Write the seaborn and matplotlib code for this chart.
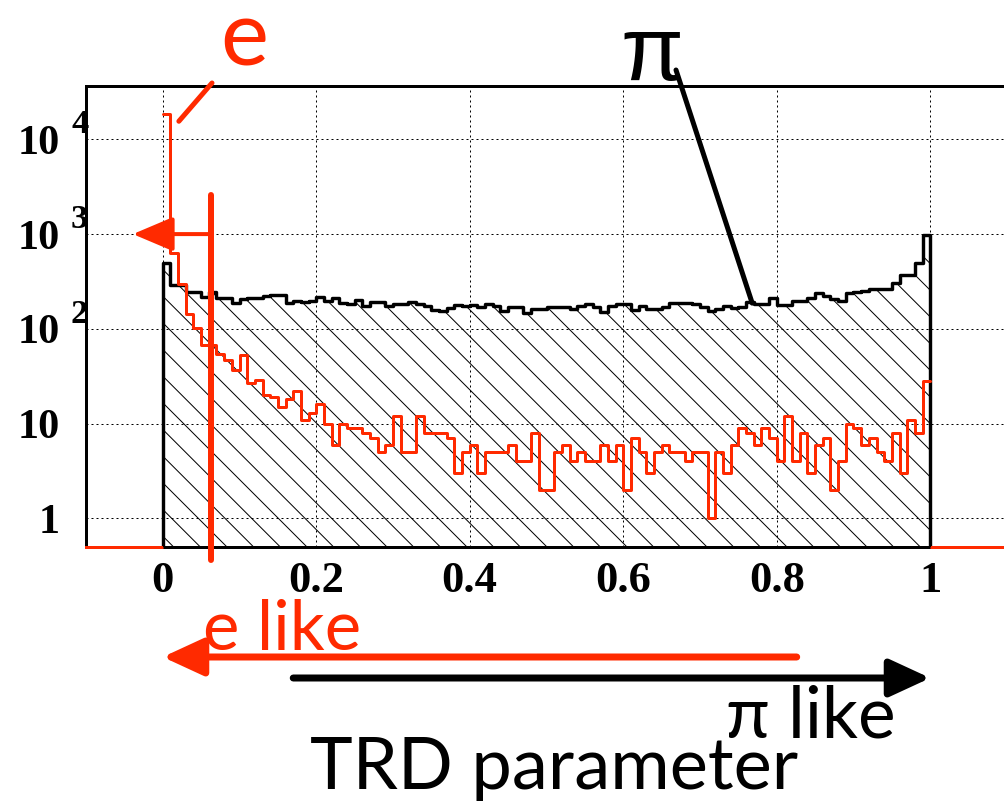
import numpy as np
import pandas as pd
import matplotlib
matplotlib.use("Agg")
import matplotlib.pyplot as plt
import seaborn as sns

# bin edges of the TRD parameter histograms (100 bins on [0, 1])
bin_edges = [round(i * 0.01, 2) for i in range(101)]

# pion counts per bin
pion_counts = [
    500, 290, 290, 245, 245, 218, 245, 210, 210, 186, 205, 210, 210, 220, 225, 225, 188,
    198, 194, 198, 215, 198, 210, 189, 185, 200, 174, 190, 190, 174, 185, 185, 190,
    185, 174, 158, 156, 165, 178, 176, 178, 170, 182, 174, 156, 172, 170, 148, 162, 162,
    170, 172, 170, 162, 174, 182, 172, 151, 174, 182, 185, 158, 174, 162, 162, 172, 188,
    188, 188, 185, 170, 156, 162, 174, 165, 170, 190, 185, 185, 210, 178, 178, 198,
    195, 210, 240, 222, 205, 195, 240, 245, 250, 261, 265, 265, 307, 370, 370, 491, 980,
]

# electron counts per bin
electron_counts = [
    18500, 630, 297, 142, 101, 67, 67, 54, 47, 37, 53, 27, 29, 20, 19, 15, 18,
    22, 11, 13, 16, 10, 6, 10, 9, 9, 8, 7, 5, 6, 12, 5, 5,
    12, 8, 8, 8, 7, 3, 5, 6, 3, 5, 5, 5, 6, 4, 4, 8, 2,
    2, 5, 6, 4, 5, 4, 4, 6, 4, 6, 2, 7, 5, 3, 5, 6, 5,
    5, 4, 5, 5, 1, 5, 3, 6, 9, 8, 6, 9, 7, 4, 12, 4,
    8, 3, 6, 7, 2, 4, 10, 9, 6, 7, 5, 4, 8, 3, 11, 8, 28,
]

x_ticks = [0, 0.2, 0.4, 0.6, 0.8, 1.0]
x_tick_labels = ["0", "0.2", "0.4", "0.6", "0.8", "1"]
y_ticks = [1, 10, 100, 1000, 10000]
y_tick_labels = ["1", "10", "10", "10", "10"]
y_exponents = {100: "2", 1000: "3", 10000: "4"}

cut_value = 0.063

RED = "#ff2a00"
DPI = 80
PX = 72 / DPI  # points per pixel

edges = np.array(bin_edges)
centers = (edges[:-1] + edges[1:]) / 2
df = pd.DataFrame({"trd": centers, "pion": pion_counts, "electron": electron_counts})

sns.set_style("white")
plt.rcParams["hatch.linewidth"] = 1.0 * PX
plt.rcParams["font.family"] = ["Lato", "Liberation Sans", "DejaVu Sans"]
plt.rcParams["axes.linewidth"] = 3 * PX
plt.rcParams["text.color"] = "black"
plt.rcParams["xtick.color"] = "black"
plt.rcParams["ytick.color"] = "black"

fig = plt.figure(figsize=(1004 / DPI, 802 / DPI), dpi=DPI)
ax = fig.add_axes([86 / 1004, 1 - 547 / 802, (1007 - 86) / 1004, (547 - 86) / 802])
ax.set_yscale("log")

ymin, ymax = 0.5, 36500

# pion histogram: hatched
sns.histplot(data=df, x="trd", weights="pion", bins=bin_edges, element="step",
             fill=True, color="black", facecolor="none", edgecolor="black",
             hatch="\\", linewidth=3.4 * PX, alpha=1, ax=ax, zorder=2)
# electron histogram: red outline
sns.histplot(data=df, x="trd", weights="electron", bins=bin_edges, element="step",
             fill=False, color=RED, linewidth=3 * PX, ax=ax, zorder=3)

ax.set_xlim(-0.1, 1.1)
ax.set_ylim(ymin, ymax)
ax.set_xlabel("")
ax.set_ylabel("")

# grid
ax.set_axisbelow(False)
ax.grid(True, which="major", color="black", linestyle=(0, (2, 3)), linewidth=1 * PX)
ax.grid(False, which="minor")

# ticks
ax.set_xticks(x_ticks)
ax.set_xticklabels(x_tick_labels)
ax.set_xticks(np.arange(-0.1, 1.101, 0.05), minor=True)
ax.set_yticks(y_ticks)
ax.set_yticklabels(y_tick_labels)
ax.yaxis.set_minor_locator(matplotlib.ticker.LogLocator(base=10, subs=np.arange(2, 10)))
ax.yaxis.set_minor_formatter(matplotlib.ticker.NullFormatter())

for lab in ax.get_xticklabels():
    lab.set_fontfamily("Liberation Serif")
    lab.set_fontweight("bold")
    lab.set_fontsize(40)
for lab in ax.get_yticklabels():
    lab.set_fontfamily("Liberation Serif")
    lab.set_fontweight("bold")
    lab.set_fontsize(38)

ax.tick_params(axis="x", which="major", direction="in", length=15 * PX,
               width=1.5 * PX, pad=14 * PX, top=False, labelcolor="black")
ax.tick_params(axis="x", which="minor", direction="in", length=8 * PX,
               width=1.2 * PX, top=False)
ax.tick_params(axis="y", which="major", direction="in", length=10 * PX,
               width=1.5 * PX, pad=26 * PX, right=False, labelcolor="black")
ax.tick_params(axis="y", which="minor", direction="in", length=7 * PX,
               width=1.2 * PX, right=False)

for val, exp in y_exponents.items():
    ax.annotate(exp, xy=(0, val), xycoords=("axes fraction", "data"),
                xytext=(-15, 6), textcoords="offset pixels",
                ha="left", va="baseline", fontfamily="Liberation Serif",
                fontweight="bold", fontsize=31, annotation_clip=False)

# spines
ax.spines["bottom"].set_color(RED)
ax.spines["right"].set_visible(False)
for side in ["left", "top"]:
    ax.spines[side].set_color("black")
ax.hlines(ymin, edges[0], edges[-1], color="black", linewidth=3 * PX,
          clip_on=False, zorder=4)

# cut line and arrow
ax.axvline(cut_value, ymin=-0.028, ymax=0.764, color=RED, linewidth=6 * PX,
           clip_on=False, zorder=5)
ax.annotate("", xy=(-0.039, 1000), xytext=(cut_value - 0.003, 1000),
            arrowprops=dict(arrowstyle="-|>,head_length=1.3,head_width=0.55",
                            color=RED, lw=4 * PX, mutation_scale=24,
                            shrinkA=0, shrinkB=0),
            annotation_clip=False, zorder=6)

# labels on the curves
fig.text(220 / 1004, 1 - 65 / 802, "e", color=RED, fontsize=82,
         ha="left", va="baseline")
ax.annotate("", xy=(0.021, 15500), xytext=(212 / 1004, 1 - 83 / 802),
            textcoords="figure fraction",
            arrowprops=dict(arrowstyle="-", color=RED, lw=5 * PX,
                            shrinkA=0, shrinkB=0),
            annotation_clip=False)
fig.text(620 / 1004, 1 - 80 / 802, "π", color="black", fontsize=82,
         ha="left", va="baseline", fontfamily="Liberation Sans")
ax.annotate("", xy=(0.768, 187), xytext=(676 / 1004, 1 - 70 / 802),
            textcoords="figure fraction",
            arrowprops=dict(arrowstyle="-", color="black", lw=5 * PX,
                            shrinkA=0, shrinkB=0),
            annotation_clip=False)

# e like / pi like arrows under the axis
ax.annotate("", xy=(0.0, 1 - 657 / 802), xytext=(0.826, 1 - 657 / 802),
            xycoords=("data", "figure fraction"),
            textcoords=("data", "figure fraction"),
            arrowprops=dict(arrowstyle="-|>,head_length=1.3,head_width=0.6",
                            color=RED, lw=7 * PX, mutation_scale=24,
                            shrinkA=0, shrinkB=0),
            annotation_clip=False)
ax.annotate("", xy=(1.0, 1 - 678 / 802), xytext=(0.17, 1 - 678 / 802),
            xycoords=("data", "figure fraction"),
            textcoords=("data", "figure fraction"),
            arrowprops=dict(arrowstyle="-|>,head_length=1.3,head_width=0.6",
                            color="black", lw=7 * PX, mutation_scale=24,
                            shrinkA=0, shrinkB=0),
            annotation_clip=False)

fig.text(203 / 1004, 1 - 650 / 802, "e like", color=RED, fontsize=62,
         ha="left", va="baseline")
fig.text(726 / 1004, 1 - 738 / 802, "π like", color="black", fontsize=64,
         ha="left", va="baseline")
fig.text(310 / 1004, 1 - 789 / 802, "TRD parameter", color="black", fontsize=65,
         ha="left", va="baseline")

fig.savefig("out.png", dpi=DPI)
